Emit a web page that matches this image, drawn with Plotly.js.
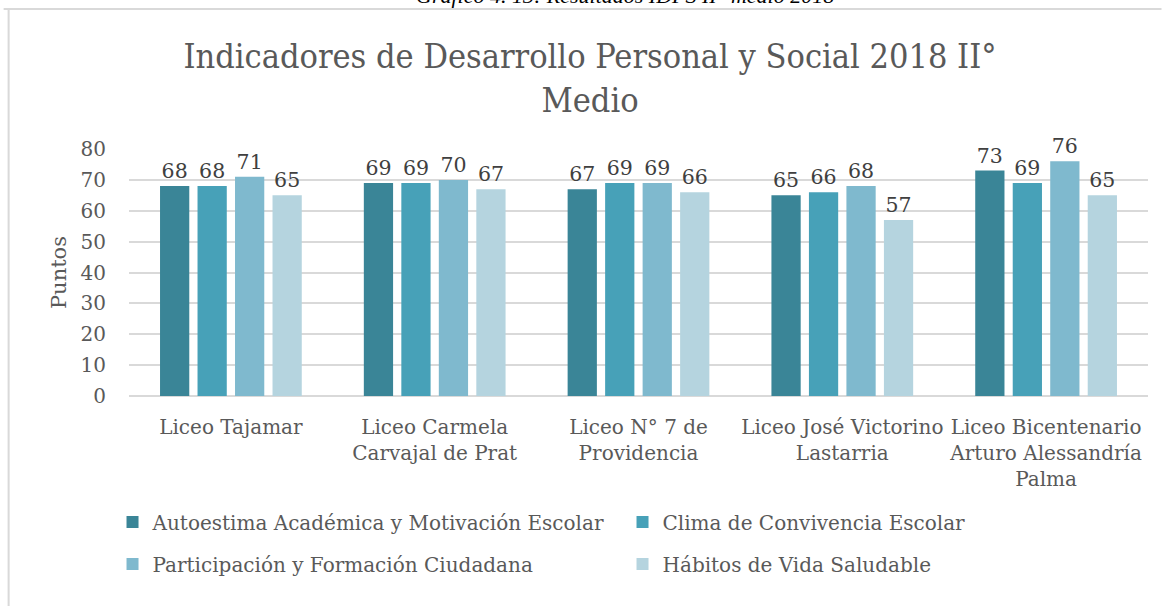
<!DOCTYPE html>
<html>
<head>
<meta charset="utf-8">
<script src="https://cdn.plot.ly/plotly-3.0.1.min.js"></script>
<style>
html,body{margin:0;padding:0;background:#fff;}
#chart{width:1162px;height:606px;}
</style>
</head>
<body>
<div id="chart"></div>
<script>
const categories = [
  "Liceo Tajamar",
  "Liceo Carmela<br>Carvajal de Prat",
  "Liceo N° 7 de<br>Providencia",
  "Liceo José Victorino<br>Lastarria",
  "Liceo Bicentenario<br>Arturo Alessandría<br>Palma"
];
const seriesNames = [
  "Autoestima Académica y Motivación Escolar",
  "Clima de Convivencia Escolar",
  "Participación y Formación Ciudadana",
  "Hábitos de Vida Saludable"
];
const autoestima = [68, 69, 67, 65, 73];
const clima = [68, 69, 69, 66, 69];
const participacion = [71, 70, 69, 68, 76];
const habitos = [65, 67, 66, 57, 65];
const yTicks = [0, 10, 20, 30, 40, 50, 60, 70, 80];
const colors = ["#3A8597", "#47A1B8", "#7FB9CE", "#B5D4DF"];

const values = [autoestima, clima, participacion, habitos];
const legends = ["legend", "legend", "legend2", "legend2"];
const FONT = "DejaVu Serif, serif";
const TFONT = "DejaVu Serif Condensed, DejaVu Serif, serif";

const traces = values.map((v, i) => ({
  type: "bar",
  name: seriesNames[i],
  x: categories,
  y: v,
  text: v.map(String),
  textposition: "outside",
  cliponaxis: false,
  textfont: {family: FONT, size: 20.5, color: "#404040"},
  marker: {color: colors[i]},
  legend: legends[i],
  hoverinfo: "x+y+name"
}));

// plot area geometry (pixels) for paper-referenced shapes
const L = 128.5, R = 1148.5, T = 149, B = 396;
const px = x => (x - L) / (R - L);
const py = y => (B - y) / (B - T);

const legendCommon = {
  orientation: "h",
  xanchor: "left",
  yanchor: "middle",
  entrywidth: 465, entrywidthmode: "pixels",
  font: {family: FONT, size: 20, color: "#595959"},
  itemwidth: 30,
  bgcolor: "rgba(0,0,0,0)",
  borderwidth: 0
};

const layout = {
  width: 1162, height: 606,
  margin: {l: L, r: 1162 - R, t: T, b: 606 - B, pad: 0, autoexpand: false},
  paper_bgcolor: "#ffffff",
  plot_bgcolor: "#ffffff",
  font: {family: FONT, color: "#595959", size: 20},
  barmode: "group",
  bargap: 0.264,
  bargroupgap: 0.22,
  title: {
    text: "Indicadores de Desarrollo Personal y Social 2018 II°<br>Medio",
    x: 590 / 1162, xanchor: "center",
    y: 1 - 68 / 606, yanchor: "middle", yref: "container",
    font: {family: TFONT, size: 34, color: "#595959"}
  },
  xaxis: {
    type: "category",
    showgrid: false, zeroline: false,
    showline: false,
    ticks: "",
    ticklabelstandoff: 17,
    tickfont: {family: FONT, size: 20, color: "#595959"},
    automargin: false
  },
  yaxis: {
    range: [0, 80],
    tickvals: yTicks,
    ticktext: yTicks.map(String),
    showgrid: true, gridcolor: "#D9D9D9", gridwidth: 1.5,
    zeroline: true, zerolinecolor: "#D9D9D9", zerolinewidth: 1.5,
    showline: false,
    ticks: "",
    ticklabelstandoff: 22,
    tickfont: {family: FONT, size: 20, color: "#595959"},
    title: {text: "Puntos", font: {family: FONT, size: 21, color: "#595959"}, standoff: 8},
    automargin: false,
    fixedrange: true
  },
  showlegend: true,
  legend: Object.assign({}, legendCommon, {x: px(112), y: py(522)}),
  legend2: Object.assign({}, legendCommon, {x: px(112), y: py(564)}),
  shapes: [
    {type: "line", xref: "paper", yref: "paper", x0: px(3), x1: px(1162), y0: py(9), y1: py(9),
     line: {color: "#D9D9D9", width: 2}, layer: "below"},
    {type: "line", xref: "paper", yref: "paper", x0: px(8), x1: px(8), y0: py(9), y1: py(606),
     line: {color: "#D9D9D9", width: 2}, layer: "below"}
  ],
  annotations: [
    {text: "<i>Gráfico 4. 13: Resultados IDPS II° medio 2018</i>",
     xref: "paper", yref: "paper", x: px(625), y: py(10), xanchor: "center", yanchor: "bottom",
     showarrow: false, font: {family: "Liberation Serif, serif", size: 22, color: "#000000"}}
  ]
};

Plotly.newPlot("chart", traces, layout, {displayModeBar: false});
</script>
</body>
</html>
